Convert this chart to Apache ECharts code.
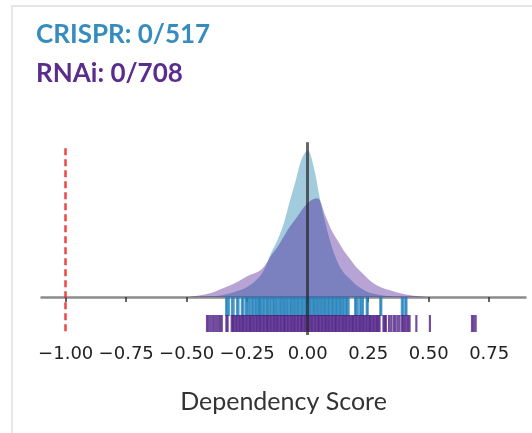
<!DOCTYPE html>
<html>
<head>
<meta charset="utf-8">
<script src="https://cdn.jsdelivr.net/npm/echarts@6/dist/echarts.min.js"></script>
<style>
  body { margin: 0; background: #fff; }
  .card { position: absolute; left: 11px; top: 5px; width: 530px; height: 440px;
          border-top: 2px solid #e6e6e6; border-left: 2px solid #e6e6e6; }
  #chart { position: absolute; left: 0; top: 0; width: 532px; height: 433px; }
</style>
</head>
<body>
<div class="card"></div>
<div id="chart"></div>
<script>
// density curves (x = dependency score, y = density)
var crisprX = [-0.45, -0.40, -0.35, -0.30, -0.25, -0.20, -0.175, -0.15, -0.125, -0.10, -0.075, -0.05, -0.025, 0.0, 0.025, 0.05, 0.075, 0.10, 0.125, 0.15, 0.175, 0.20, 0.225, 0.25, 0.30, 0.35, 0.40]
var crisprY = [0, 0.01, 0.05, 0.13, 0.25, 0.5, 0.75, 1.12, 1.42, 1.82, 2.37, 2.9, 3.45, 3.67, 3.25, 2.47, 1.8, 1.25, 0.85, 0.6, 0.45, 0.3, 0.2, 0.12, 0.05, 0.01, 0]
var rnaiX = [-0.50, -0.45, -0.40, -0.35, -0.30, -0.25, -0.20, -0.175, -0.15, -0.125, -0.10, -0.075, -0.05, -0.025, 0.0, 0.025, 0.04, 0.075, 0.10, 0.125, 0.15, 0.175, 0.20, 0.225, 0.25, 0.275, 0.30, 0.35, 0.40, 0.45, 0.50]
var rnaiY = [0, 0.04, 0.1, 0.22, 0.35, 0.52, 0.65, 0.8, 1.05, 1.25, 1.5, 1.75, 1.95, 2.17, 2.35, 2.45, 2.47, 2.0, 1.65, 1.4, 1.15, 0.95, 0.75, 0.6, 0.45, 0.33, 0.25, 0.15, 0.07, 0.025, 0]

// rug marks (individual scores)
var crisprRug = [-0.337, -0.332, -0.326, -0.313, -0.306, -0.292, -0.286, -0.272, -0.267, -0.257, -0.251, -0.245, -0.239, -0.231, -0.226, -0.219, -0.213, -0.207, -0.202,
  -0.198, -0.193, -0.186, -0.181, -0.174, -0.168, -0.163, -0.157, -0.151, -0.144, -0.139, -0.133, -0.128, -0.121, -0.115, -0.109, -0.104, -0.098, -0.092, -0.087, -0.081,
  -0.074, -0.069, -0.063, -0.058, -0.052, -0.046, -0.041, -0.035, -0.029, -0.023, -0.018, -0.012, -0.007, -0.002, 0.004, 0.009, 0.015, 0.021, 0.026, 0.032, 0.037,
  0.043, 0.049, 0.054, 0.06, 0.066, 0.071, 0.077, 0.083, 0.088, 0.094, 0.1, 0.105, 0.111, 0.117, 0.122, 0.128, 0.134, 0.139, 0.145, 0.151,
  0.158, 0.163, 0.169, 0.196, 0.2, 0.207, 0.217, 0.222, 0.228, 0.244, 0.248, 0.3, 0.304, 0.389, 0.395, 0.404, 0.408]
var rnaiRug = [-0.416, -0.409, -0.401, -0.393, -0.386, -0.378, -0.37, -0.362, -0.355,
  -0.336, -0.331, -0.314, -0.309, -0.303, -0.297, -0.291, -0.285, -0.279, -0.273, -0.268, -0.262, -0.256, -0.25, -0.244, -0.238, -0.233, -0.227, -0.221, -0.215,
  -0.209, -0.203, -0.198, -0.192, -0.186, -0.18, -0.174, -0.168, -0.163, -0.157, -0.151, -0.145, -0.139, -0.133, -0.128, -0.122, -0.116, -0.11, -0.104, -0.098,
  -0.093, -0.087, -0.081, -0.075, -0.069, -0.063, -0.058, -0.052, -0.046, -0.04, -0.034, -0.028, -0.023, -0.017, -0.011, -0.005, 0.001, 0.007, 0.012, 0.018,
  0.024, 0.03, 0.036, 0.042, 0.047, 0.053, 0.059, 0.065, 0.071, 0.077, 0.082, 0.088, 0.094, 0.1, 0.106, 0.112, 0.117, 0.123, 0.129, 0.135, 0.141, 0.147,
  0.152, 0.158, 0.164, 0.17, 0.176, 0.182, 0.187, 0.193, 0.199, 0.205, 0.211, 0.217, 0.222, 0.228, 0.234, 0.24, 0.246, 0.252, 0.257, 0.263, 0.269, 0.275,
  0.281, 0.287, 0.292, 0.297,
  0.313, 0.318, 0.323, 0.336, 0.345, 0.355, 0.362, 0.371, 0.379, 0.389, 0.395, 0.401, 0.408, 0.415, 0.421, 0.449, 0.505, 0.679, 0.686, 0.694]

var tickValues = [-1, -0.75, -0.5, -0.25, 0, 0.25, 0.5, 0.75]
var cutoff = -1
var crisprTitle = 'CRISPR: 0/517'
var rnaiTitle = 'RNAi: 0/708'

function zip (xs, ys) {
  return xs.map(function (x, i) { return [x, ys[i]] })
}

function rug (y0, y1, color) {
  return function (params, api) {
    var a = api.coord([api.value(0), y0])
    var b = api.coord([api.value(0), y1])
    return {
      type: 'line',
      shape: { x1: a[0], y1: a[1], x2: b[0], y2: b[1] },
      style: { stroke: color, lineWidth: 2.2 }
    }
  }
}

var chart = echarts.init(document.getElementById('chart'))
chart.setOption({
  animation: false,
  title: [
    { text: crisprTitle, left: 31, top: 17, textStyle: { fontFamily: 'Lato', fontWeight: 'bold', fontSize: 26, color: '#378cbf' } },
    { text: rnaiTitle, left: 31, top: 56, textStyle: { fontFamily: 'Lato', fontWeight: 'bold', fontSize: 26, color: '#5a2d8c' } }
  ],
  grid: { left: 41.5, width: 484, top: 137, height: 200 },
  xAxis: [{
    type: 'value', min: -1.1, max: 0.9,
    axisLine: { onZero: true, lineStyle: { color: '#8c8c8c', width: 2.5 } },
    axisTick: { show: true, customValues: tickValues, length: 5, lineStyle: { color: '#333', width: 1.5 } },
    axisLabel: { show: false },
    splitLine: { show: false }
  }, {
    type: 'value', min: -1.1, max: 0.9, position: 'bottom',
    axisLine: { show: false, onZero: false },
    axisTick: { show: false },
    splitLine: { show: false },
    axisLabel: {
      customValues: tickValues, margin: 8,
      fontFamily: 'DejaVu Sans', fontSize: 18, color: '#222',
      formatter: function (v) { return (v < 0 ? '\u2212' : '') + Math.abs(v).toFixed(2) }
    },
    name: 'Dependency Score', nameLocation: 'middle', nameGap: 52,
    nameTextStyle: { fontFamily: 'Lato', fontSize: 25, color: '#333' }
  }],
  yAxis: { type: 'value', min: -1, max: 4, show: false },
  series: [{
    name: 'CRISPR', type: 'line', smooth: 0.35, showSymbol: false,
    data: zip(crisprX, crisprY),
    lineStyle: { width: 0 },
    areaStyle: { color: 'rgba(70,152,190,0.5)', opacity: 1 }
  }, {
    name: 'RNAi', type: 'line', smooth: 0.35, showSymbol: false,
    data: zip(rnaiX, rnaiY),
    lineStyle: { width: 0 },
    areaStyle: { color: 'rgba(55,0,135,0.36)', opacity: 1 }
  }, {
    name: 'CRISPR rug', type: 'custom',
    data: crisprRug.map(function (v) { return [v] }),
    encode: { x: 0 },
    renderItem: rug(0, -0.475, 'rgba(31,127,184,0.78)')
  }, {
    name: 'RNAi rug', type: 'custom',
    data: rnaiRug.map(function (v) { return [v] }),
    encode: { x: 0 },
    renderItem: rug(-0.45, -0.875, 'rgba(75,28,132,0.78)')
  }, {
    name: 'refs', type: 'line', data: [], z: 5,
    markLine: {
      symbol: 'none', silent: true, label: { show: false },
      data: [
        [{ coord: [0, 3.87], lineStyle: { color: 'rgba(40,40,40,0.7)', width: 3, type: 'solid' } }, { coord: [0, -0.95] }],
        [{ coord: [cutoff, 3.72], lineStyle: { color: 'rgba(235,50,50,0.9)', width: 2.5, type: [7, 4] } }, { coord: [cutoff, -0.95] }]
      ]
    }
  }]
})
</script>
</body>
</html>
